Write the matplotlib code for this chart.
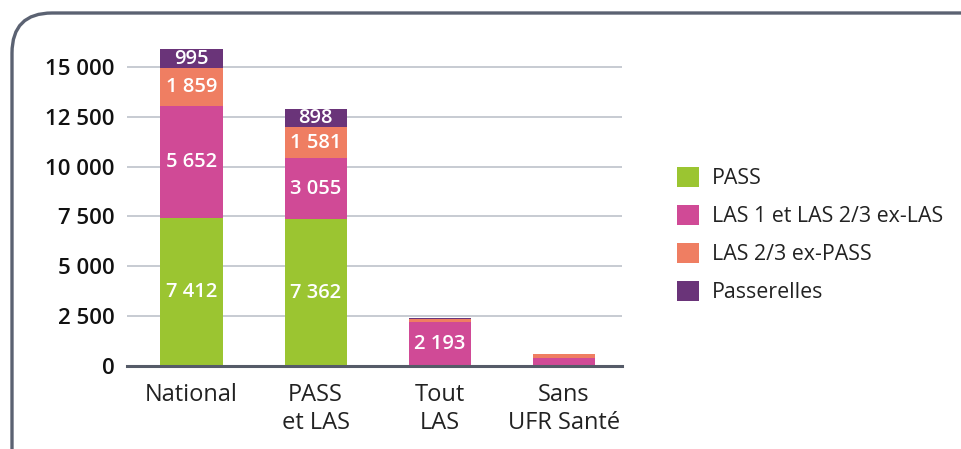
import matplotlib.pyplot as plt
from matplotlib.patches import FancyBboxPatch, Patch

plt.rcParams['font.family'] = ['Open Sans', 'DejaVu Sans']

categories = ["National", "PASS\net LAS", "Tout\nLAS", "Sans\nUFR Santé"]
series_names = ["PASS", "LAS 1 et LAS 2/3 ex-LAS", "LAS 2/3 ex-PASS", "Passerelles"]
pass_vals = [7412, 7362, 0, 0]
las_vals = [5652, 3055, 2193, 390]
ex_pass_vals = [1859, 1581, 140, 200]
passerelles_vals = [995, 898, 50, 10]
yticks = [0, 2500, 5000, 7500, 10000, 12500, 15000]

colors = ["#9bc531", "#d04a96", "#ef7e62", "#6a3479"]

fig = plt.figure(figsize=(9.62, 4.49), dpi=100)
W, H = 962, 449
# axes placed in pixel terms: x 127..622, y 366 (zero) .. top
ax = fig.add_axes([127 / W, (H - 366) / H, (622 - 127) / W, (366 - 39) / H])

# rounded frame around the chart
frame = FancyBboxPatch((0.12, -1.0), 10.0, 4.36 + 1.0,
                       boxstyle="round,pad=0,rounding_size=0.40",
                       transform=fig.dpi_scale_trans, fill=False,
                       edgecolor="#5b6272", linewidth=2.4, clip_on=False)
fig.patches.append(frame)

x = list(range(len(categories)))
stack = [pass_vals, las_vals, ex_pass_vals, passerelles_vals]
bottom = [0] * len(categories)
for vals, col, name in zip(stack, colors, series_names):
    ax.bar(x, vals, width=0.5, bottom=bottom, color=col, label=name, zorder=3)
    for i, v in enumerate(vals):
        if v >= 500:
            ax.text(i, bottom[i] + v / 2, f"{v:,}".replace(",", " "),
                    ha="center", va="center", color="white",
                    fontsize=14.5, fontweight="semibold", zorder=4)
    bottom = [b + v for b, v in zip(bottom, vals)]

ax.set_xlim(-0.52, 3.47)
ax.set_ylim(0, 16400)
ax.set_yticks(yticks)
ax.set_yticklabels([f"{t:,}".replace(",", " ") for t in yticks],
                   fontsize=16, fontweight="semibold", color="#111111")
ax.set_xticks(x)
ax.set_xticklabels(categories, fontsize=17, color="#222222", linespacing=1.25)
ax.tick_params(axis="y", length=0, pad=9)
ax.tick_params(axis="x", length=0, pad=12)
ax.grid(axis="y", color="#c3c7cf", linewidth=1.3, zorder=0)
for s in ["top", "right", "left"]:
    ax.spines[s].set_visible(False)
ax.spines["bottom"].set_color("#555b68")
ax.spines["bottom"].set_linewidth(2.2)
ax.spines["bottom"].set_zorder(5)

handles = [Patch(facecolor=c, edgecolor="none") for c in colors]
fig.legend(handles, series_names, loc="upper left",
           bbox_to_anchor=(658 / W, 1 - 148 / H), frameon=False,
           fontsize=15.4, handlelength=1.03, handleheight=1.03,
           handletextpad=0.61, labelspacing=0.74, labelcolor="#222222")

fig.savefig("out.png", dpi=100)
